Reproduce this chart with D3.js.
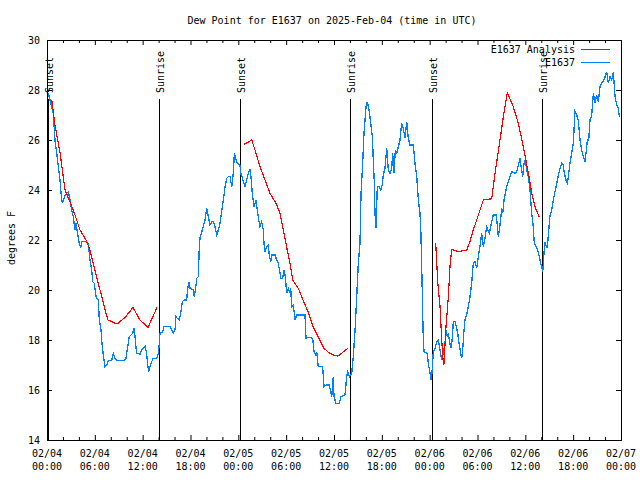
<!DOCTYPE html>
<html><head><meta charset="utf-8">
<script src="https://cdn.jsdelivr.net/npm/d3@7"></script>
<style>
body{margin:0;background:#fff;}
text{font-family:"DejaVu Sans Mono",monospace;font-size:10px;fill:#000;}
</style></head><body>
<svg id="c" width="640" height="480"></svg>
<script>
const title = "Dew Point for E1637 on 2025-Feb-04 (time in UTC)";
const yLabel = "degrees F";
const seriesNames = ["E1637 Analysis", "E1637"];
const seriesColors = ["#ff0000", "#0080ff"];
const yTicks = [14,16,18,20,22,24,26,28,30];
const xTickHours = [0,6,12,18,24,30,36,42,48,54,60,66,72];
const xTickDates = ["02/04","02/04","02/04","02/04","02/05","02/05","02/05","02/05","02/06","02/06","02/06","02/06","02/07"];
const xTickTimes = ["00:00","06:00","12:00","18:00","00:00","06:00","12:00","18:00","00:00","06:00","12:00","18:00","00:00"];
const sunLabels = ["Sunset","Sunrise","Sunset","Sunrise","Sunset","Sunrise"];
const sunHours = [0.16,14.09,24.21,38.05,48.33,62.13];

// hours since 2025-02-04 00:00 UTC
const anaHours = [0.6,1.0,1.63,2.26,3.30,4.14,4.89,5.39,6.02,6.65,7.28,7.65,8.78,9.78,10.79,11.67,12.67,13.8,
  13.9,
  24.75,25.68,26.09,26.72,27.35,27.97,28.73,29.23,29.64,30.13,30.48,30.82,31.52,32.11,32.74,33.37,33.99,34.75,35.25,35.87,36.5,37.76,
  37.9,
  48.76,49.01,49.3,49.51,49.71,49.78,50.05,50.34,50.55,50.76,51.59,52.65,53.06,53.47,53.9,54.73,55.78,56.2,56.82,57.24,57.74,58.49,59.12,59.75,60.38,60.8,61.21,61.75];
const anaValues = [27.6,26.6,25.5,24.0,23.2,22.4,22.0,21.6,20.8,20.0,19.2,18.8,18.64,18.9,19.3,18.8,18.5,19.3,
  null,
  25.83,26.0,25.6,24.93,24.4,23.87,23.47,23.07,22.4,21.6,21.07,20.4,20.07,19.6,19.13,18.53,18.13,17.67,17.52,17.4,17.36,17.67,
  null,
  21.87,20.33,19.33,18.0,17.07,17.0,18.53,19.73,20.93,21.63,21.53,21.6,21.95,22.4,22.8,23.6,23.65,24.67,26.0,26.93,27.89,27.33,26.67,25.73,24.67,23.87,23.33,22.91];

const obsHours = [0.16,0.38,0.59,0.79,1.0,1.22,1.42,1.63,1.76,1.92,2.26,2.47,2.67,2.89,3.10,3.30,3.51,3.64,3.80,4.05,4.23,4.35,4.98,5.18,5.39,5.61,5.73,5.93,6.15,6.44,6.56,6.77,6.90,7.06,7.28,7.49,7.69,8.12,8.32,8.53,8.74,9.57,9.91,10.12,10.32,10.54,10.75,10.92,11.04,11.16,11.25,11.67,11.88,12.29,12.50,12.63,12.76,12.92,13.13,13.33,13.76,13.96,14.09,14.17,14.51,14.68,15.43,15.64,15.84,16.06,16.18,16.34,16.60,16.77,16.97,17.19,17.52,17.65,17.81,17.94,18.15,18.35,18.48,18.65,18.78,18.98,19.10,19.19,19.82,20.03,20.23,20.45,20.66,20.86,21.07,21.29,21.49,21.70,21.91,22.12,22.33,22.54,22.74,22.96,23.17,23.37,23.50,23.67,23.87,24.21,24.30,24.46,24.62,24.84,25.05,25.25,25.46,25.59,25.75,25.97,26.09,26.22,26.38,26.56,26.72,26.93,27.13,27.22,27.35,27.56,27.76,27.88,28.06,28.19,28.60,28.81,29.01,29.23,29.35,29.57,29.73,29.89,30.07,30.27,30.48,30.57,30.69,30.90,31.11,31.32,32.36,32.49,32.78,33.33,33.49,33.71,33.83,34.03,34.58,34.75,35.0,35.41,35.71,35.91,36.0,36.25,36.67,36.88,37.38,37.59,37.72,37.92,38.22,38.42,38.64,38.85,39.05,39.26,39.39,39.60,39.76,39.89,40.02,40.18,40.39,40.61,40.81,40.93,41.06,41.14,41.27,41.43,41.65,41.86,42.06,42.18,42.40,42.61,42.81,43.03,43.24,43.36,43.53,43.69,43.87,44.07,44.28,44.49,44.69,44.91,45.12,45.32,45.53,45.95,46.16,46.38,46.58,46.79,46.91,47.04,47.17,47.29,47.70,47.83,48.04,48.17,48.29,48.46,48.67,48.88,49.08,49.30,49.51,49.71,49.92,50.05,50.21,50.34,50.64,50.80,50.97,51.18,51.39,51.52,51.68,51.89,52.02,52.14,52.31,52.43,52.64,52.84,53.06,53.27,53.47,53.69,53.90,54.10,54.31,54.52,54.73,54.94,55.15,55.48,55.78,55.98,56.32,56.49,56.61,56.82,57.04,57.16,57.33,57.66,58.08,58.29,58.71,58.92,59.12,59.33,59.50,59.67,59.84,60.0,60.17,60.38,60.59,60.80,61.0,61.09,61.21,61.43,61.63,61.75,61.93,62.05,62.18,62.25,62.34,62.47,62.59,62.76,62.88,63.10,63.31,63.51,63.72,63.94,64.14,64.35,64.56,64.76,64.89,65.10,65.27,65.39,65.60,65.82,66.02,66.23,66.44,66.64,66.86,67.07,67.27,67.49,67.61,67.78,67.95,68.11,68.33,68.53,68.74,68.95,69.16,69.37,69.58,69.87,70.21,70.41,70.62,70.84,71.04,71.25,71.46,71.66,71.79];
const obsValues = [27.87,27.6,27.33,27.07,26.0,25.47,24.93,24.4,23.87,23.47,23.8,23.87,23.93,23.6,23.2,22.93,22.4,22.67,22.33,21.87,21.67,21.93,21.93,21.87,21.2,20.8,20.33,20.27,19.73,19.6,18.8,18.4,17.87,17.4,16.93,17.0,17.17,17.2,17.47,17.27,17.17,17.17,17.27,17.73,18.13,18.2,18.27,18.47,18.13,17.73,17.47,17.44,17.6,17.76,17.47,17.0,16.73,16.93,17.13,17.27,17.27,17.47,17.87,18.27,18.33,18.53,18.53,18.4,18.27,18.4,18.93,18.87,18.8,19.07,19.53,19.6,19.6,20.07,20.33,20.07,20.03,20.0,19.73,20.07,20.47,20.53,21.67,22.07,22.8,23.27,22.93,22.6,22.73,22.73,22.53,22.2,22.4,22.67,23.13,23.6,24.13,24.47,24.53,24.53,24.13,24.67,25.47,25.27,25.07,25.0,24.67,24.53,24.33,24.13,24.4,24.67,24.8,24.53,23.87,23.33,23.47,23.6,23.2,22.8,22.53,22.73,22.4,21.87,21.53,21.73,21.8,21.4,21.13,21.4,21.4,21.2,21.07,20.67,20.47,20.47,20.8,20.53,19.87,20.07,19.87,20.07,19.33,19.4,18.8,19.0,19.0,18.07,18.11,18.07,17.53,17.4,17.53,16.93,16.93,16.13,16.2,16.2,15.73,16.53,15.73,15.47,15.47,15.73,15.8,16.53,16.73,16.53,16.67,17.33,18.4,19.73,21.07,21.87,23.87,25.07,26.27,26.8,27.33,27.53,27.2,26.67,26.13,25.2,24.27,23.07,22.5,24.13,24.13,24.0,24.2,24.6,24.87,25.67,24.8,24.67,24.87,25.47,24.67,25.6,25.47,25.73,26.0,26.67,26.47,26.07,26.73,26.07,25.8,25.8,25.07,24.53,23.6,23.07,22.2,20.4,18.4,17.53,17.47,17.07,16.67,16.4,16.67,17.53,17.67,17.93,18.0,17.6,17.2,17.47,17.87,18.4,18.13,18.27,17.67,17.93,18.73,18.73,18.47,18.27,17.87,17.47,17.27,17.6,18.4,18.8,19.0,19.33,19.73,20.27,21.07,21.13,20.87,21.33,21.73,22.27,21.73,22.07,22.53,22.27,22.73,23.0,23.0,22.6,22.13,22.6,23.27,23.07,23.6,24.13,24.53,24.73,24.67,24.73,25.0,25.27,24.87,24.53,25.07,25.2,24.8,24.53,24.0,23.07,22.53,22.0,21.8,21.67,21.53,21.33,21.07,20.93,20.73,21.0,21.47,21.93,21.8,21.67,22.2,23.0,23.2,23.6,23.93,24.27,24.6,24.87,25.07,25.0,24.67,24.4,24.27,24.53,25.07,25.47,25.87,27.13,27.0,26.8,26.0,25.6,25.33,25.13,25.47,26.0,26.0,26.8,27.0,27.87,27.47,27.8,27.53,28.13,28.27,28.4,28.73,28.27,28.53,28.4,28.73,27.73,27.4,27.27,26.93];

const t0 = Date.UTC(2025, 1, 4);
const toDate = h => new Date(t0 + h * 3600e3);

const svg = d3.select("#c");
const L = 47, R = 621, T = 40, B = 440;
const x = d3.scaleUtc().domain([toDate(0), toDate(72)]).range([L, R]);
const y = d3.scaleLinear().domain([14, 30]).range([B, T]);

svg.append("rect").attr("width",640).attr("height",480).attr("fill","#fff");

// title
svg.append("text").attr("x", 332).attr("y", 20).attr("text-anchor","middle")
  .attr("dominant-baseline","central").text(title);
// y label
svg.append("text").attr("transform","translate(11,238) rotate(-90)")
  .attr("text-anchor","middle").attr("dominant-baseline","central").text(yLabel);

const minorHours = d3.range(0, 73, 2).filter(h => h % 6 !== 0);
function styleAxis(g){ g.select(".domain").remove(); g.selectAll("line").attr("stroke","#000"); g.selectAll("text").remove(); }

// x axes (inward ticks)
svg.append("g").attr("transform",`translate(0,${B})`)
  .call(d3.axisBottom(x).tickValues(xTickHours.map(toDate)).tickSize(-5).tickSizeOuter(0)).call(styleAxis);
svg.append("g").attr("transform",`translate(0,${B})`)
  .call(d3.axisBottom(x).tickValues(minorHours.map(toDate)).tickSize(-3).tickSizeOuter(0)).call(styleAxis);
svg.append("g").attr("transform",`translate(0,${T})`)
  .call(d3.axisTop(x).tickValues(xTickHours.map(toDate)).tickSize(-5).tickSizeOuter(0)).call(styleAxis);
svg.append("g").attr("transform",`translate(0,${T})`)
  .call(d3.axisTop(x).tickValues(minorHours.map(toDate)).tickSize(-3).tickSizeOuter(0)).call(styleAxis);
// y axes
svg.append("g").attr("transform",`translate(${L},0)`)
  .call(d3.axisLeft(y).tickValues(yTicks).tickSize(-5).tickSizeOuter(0)).call(styleAxis);
svg.append("g").attr("transform",`translate(${R},0)`)
  .call(d3.axisRight(y).tickValues(yTicks).tickSize(-5).tickSizeOuter(0)).call(styleAxis);

// y tick labels
svg.append("g").selectAll("text").data(yTicks).join("text")
  .attr("x", 40).attr("y", d => y(d)).attr("text-anchor","end")
  .attr("dominant-baseline","central").text(d => d);
// x tick labels
const xl = svg.append("g").selectAll("g").data(xTickHours).join("g")
  .attr("transform", h => `translate(${x(toDate(h))},0)`);
xl.append("text").attr("y",453).attr("text-anchor","middle").attr("dominant-baseline","central").text((h,i)=>xTickDates[i]);
xl.append("text").attr("y",466).attr("text-anchor","middle").attr("dominant-baseline","central").text((h,i)=>xTickTimes[i]);

// frame
svg.append("rect").attr("x",L+0.5).attr("y",T+0.5).attr("width",R-L).attr("height",B-T)
  .attr("fill","none").attr("stroke","#000").attr("shape-rendering","crispEdges");

// sun lines
const sg = svg.append("g").selectAll("g").data(sunHours).join("g")
  .attr("transform", h => `translate(${Math.round(x(toDate(h)))+0.5},0)`);
sg.append("line").attr("y1",99).attr("y2",B).attr("stroke","#000").attr("shape-rendering","crispEdges");
sg.append("text").attr("transform","translate(1,93) rotate(-90)").attr("dominant-baseline","central")
  .text((h,i)=>sunLabels[i]);

// data
const anaData = anaHours.map((h,i)=>({t:toDate(h), v:anaValues[i]}));
const obsData = obsHours.map((h,i)=>({t:toDate(h), v:obsValues[i]}));
const line = d3.line().defined(d => d.v !== null).x(d => x(d.t)).y(d => y(d.v));
svg.append("path").datum(obsData).attr("d", line).attr("fill","none").attr("stroke",seriesColors[1])
  .attr("stroke-width",1.3).attr("shape-rendering","crispEdges");
svg.append("path").datum(anaData).attr("d", line).attr("fill","none").attr("stroke",seriesColors[0])
  .attr("stroke-width",1.2).attr("shape-rendering","crispEdges");

// legend
const lg = svg.append("g").selectAll("g").data(seriesNames).join("g")
  .attr("transform",(d,i)=>`translate(0,${49.5 + i*13})`);
lg.append("text").attr("x",575).attr("text-anchor","end").attr("dominant-baseline","central").text(d=>d);
lg.append("line").attr("x1",581).attr("x2",610).attr("stroke",(d,i)=>seriesColors[i]).attr("stroke-width",1)
  .attr("shape-rendering","crispEdges");
</script>
</body></html>
